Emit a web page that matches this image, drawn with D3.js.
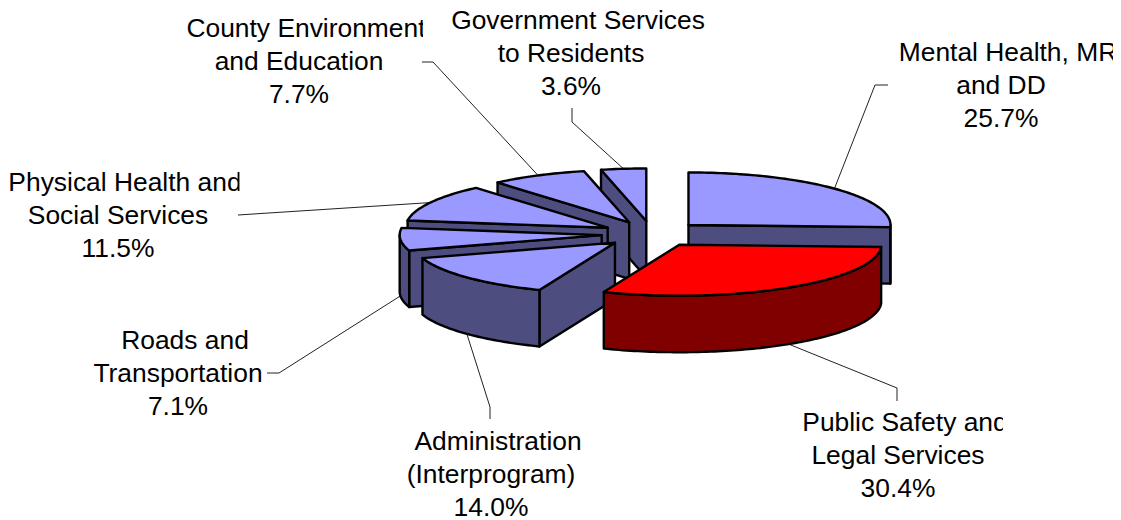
<!DOCTYPE html>
<html><head><meta charset="utf-8">
<script src="https://cdn.jsdelivr.net/npm/d3@7"></script>
<style>html,body{margin:0;padding:0;background:#fff}svg{display:block}</style>
</head><body><svg id="c" width="1121" height="520"></svg>
<script>
const names = [
  ["Mental Health, MR","and DD"],
  ["Public Safety and","Legal Services"],
  ["Administration","(Interprogram)"],
  ["Roads and","Transportation"],
  ["Physical Health and","Social Services"],
  ["County Environment","and Education"],
  ["Government Services","to Residents"]
];
const values = [25.7,30.4,14.0,7.1,11.5,7.7,3.6];
const topColors = ["#9999FF","#FF0000","#9999FF","#9999FF","#9999FF","#9999FF","#9999FF"];
const sideColors = ["#4D4D80","#800000","#4D4D80","#4D4D80","#4D4D80","#4D4D80","#4D4D80"];
const drawOrder = [6,5,4,0,3,2,1];

const W=1121,H=520, cx=652, cy=234, rx=202, ryBack=52.5, ryFront=51, depth=56.5, explode=0.25;
// label layout: centre x, first baseline, clip right edge, elbow, end of leader
const labelLayout = [
 {x:1001,y:61,clip:1113,elbow:[875,85],end:[888,85]},
 {x:898,y:431,clip:1003,elbow:[897,388],end:[897,401]},
 {x:491,y:450,clip:W,elbow:[490,407],end:[490,419]},
 {x:178,y:349,clip:W,elbow:[279,373],end:[267,373]},
 {x:118,y:191,clip:239.5,elbow:[238,215],end:[238,215]},
 {x:299,y:36.5,clip:423,elbow:[433,62],end:[422,62]},
 {x:571,y:28.5,clip:705,elbow:[572,122],end:[572,108]}
];
const pct=d=>d.toFixed(1)+"%", fontSize=26.4, lineH=33.2, firstLineShift=7;

const svg=d3.select("#c");
const pie=d3.pie().sort(null).value(d=>d)(values);
const pos=(a,o,r=1)=>{const c=Math.cos(a);return [o[0]+rx*r*Math.sin(a), o[1]-(c<0?ryFront:ryBack)*r*c];};
const line=d3.line();
pie.forEach(p=>{const m=(p.startAngle+p.endAngle)/2;p.mid=m;p.o=pos(m,[cx,cy],explode);});
const arcPts=(o,a0,a1,dy=0)=>{const n=Math.max(2,Math.ceil(Math.abs(a1-a0)/0.02));
  return d3.range(n+1).map(i=>{const q=pos(a0+(a1-a0)*i/n,o);return [q[0],q[1]+dy];});};

const defs=svg.append("defs");
// leaders below the slices
labelLayout.forEach((l,i)=>{
  const p=pie[i], s=pos(p.mid,p.o);
  if(Math.cos(p.mid)<0) s[1]+=depth;
  svg.append("path").attr("d",line([s,l.elbow,l.end])).attr("fill","none").attr("stroke","#222").attr("stroke-width",1);
});
const T=Math.PI*2;
const st={"stroke":"#000","stroke-width":2.4,"stroke-linejoin":"round"};
const face=(pts,fill)=>{const e=svg.append("path").attr("d",line(pts)+"Z").attr("fill",fill);
  Object.entries(st).forEach(([k,v])=>e.attr(k,v));};
drawOrder.forEach(i=>{
  const p=pie[i],o=p.o,a=p.startAngle,b=p.endAngle;
  const oB=[o[0],o[1]+depth];
  if(Math.sin(a)<-1e-6){const q=pos(a,o);face([o,q,[q[0],q[1]+depth],oB],sideColors[i]);}
  if(Math.sin(b)>1e-6){const q=pos(b,o);face([o,q,[q[0],q[1]+depth],oB],sideColors[i]);}
  const w0=Math.max(a,T/4), w1=Math.min(b,3*T/4);
  if(w1>w0){const up=arcPts(o,w0,w1),dn=arcPts(o,w0,w1,depth).reverse();face(up.concat(dn),sideColors[i]);}
  face([o].concat(arcPts(o,a,b)),topColors[i]);
});
// labels
labelLayout.forEach((l,i)=>{
  const id="clip"+i;
  defs.append("clipPath").attr("id",id).append("rect").attr("x",0).attr("y",0).attr("width",l.clip).attr("height",H);
  const g=svg.append("g").attr("clip-path",`url(#${id})`);
  names[i].concat([pct(values[i])]).forEach((t,k)=>{
    g.append("text").attr("x",l.x+(k===0?firstLineShift:0)).attr("y",l.y+k*lineH).attr("text-anchor","middle")
     .attr("font-family","'Liberation Sans',Arial,sans-serif").attr("font-size",fontSize).attr("fill","#000").text(t);
  });
});
</script></body></html>
